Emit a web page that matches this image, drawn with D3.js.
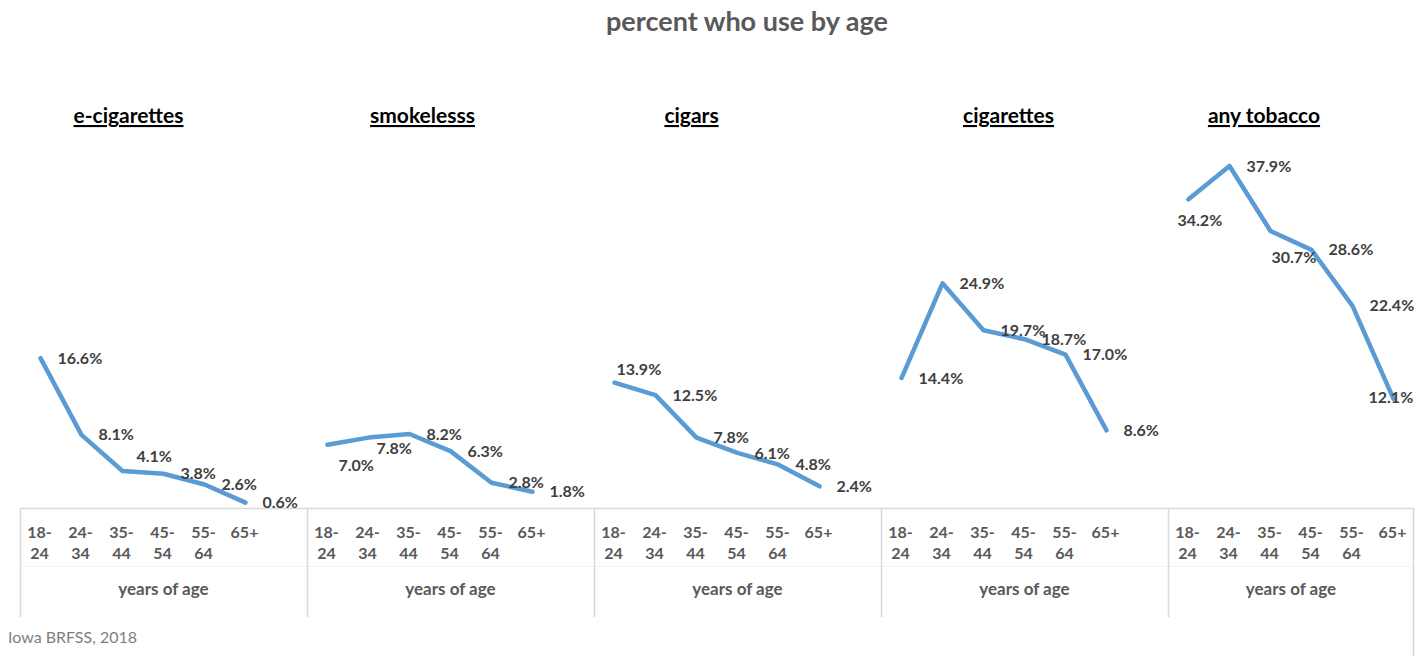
<!DOCTYPE html>
<html>
<head>
<meta charset="utf-8">
<script src="https://cdn.jsdelivr.net/npm/d3@7"></script>
<style>
  body { margin: 0; background: #fff; }
  text { font-family: Lato, "Open Sans", sans-serif; }
</style>
</head>
<body>
<svg id="chart" width="1426" height="656"></svg>
<script>
let ageGroups = ['18-24', '24-34', '35-44', '45-54', '55-64', '65+'];
let products = ['e-cigarettes', 'smokelesss', 'cigars', 'cigarettes', 'any tobacco'];

let eCigarettes = [16.6, 8.1, 4.1, 3.8, 2.6, 0.6];
let smokeless = [7.0, 7.8, 8.2, 6.3, 2.8, 1.8];
let cigars = [13.9, 12.5, 7.8, 6.1, 4.8, 2.4];
let cigarettes = [14.4, 24.9, 19.7, 18.7, 17.0, 8.6];
let anyTobacco = [34.2, 37.9, 30.7, 28.6, 22.4, 12.1];

let series = [eCigarettes, smokeless, cigars, cigarettes, anyTobacco];

// hand-placed label tweaks from the original (dx, dy from default "right" spot)
let labelNudge = {
  '0-2': [-3, -15],
  '1-0': [-6, 21],
  '1-1': [-9, 11],
  '2-0': [-15, -13],
  '4-0': [-28, 21],
  '4-2': [-16, 26],
  '4-5': [-42, -1]
};
let titleShift = [-35, -28, -46, -16, -27];

const lineColor = '#5B9BD5';
const gridColor = '#d9d9d9';

let svg = d3.select('#chart');

// one slot per age group, plus a blank slot after each group except the last
let slots = [];
products.forEach(function (p, i) {
  ageGroups.forEach(function (a) { slots.push(p + '|' + a); });
  if (i < products.length - 1) slots.push(p + '|gap');
});

let x = d3.scaleBand()
  .domain(slots)
  .range([20, 1414])
  .padding(0);

let y = d3.scaleLinear()
  .domain([0, 40])
  .range([508, 147]);

let cx = function (p, a) { return x(p + '|' + a) + x.bandwidth() / 2; };

// title
svg.append('text')
  .attr('x', 747)
  .attr('y', 31)
  .attr('text-anchor', 'middle')
  .attr('font-size', 27)
  .attr('font-weight', 'bold')
  .attr('fill', '#595959')
  .text('percent who use by age');

// frame of the category area
let groupStart = products.map(function (p) { return x(p + '|' + ageGroups[0]); });
let groupEnd = products.map(function (p, i) {
  return i < products.length - 1 ? x(p + '|gap') + x.bandwidth() : x.range()[1];
});

svg.append('line')
  .attr('x1', x.range()[0]).attr('x2', x.range()[1] - 1)
  .attr('y1', 566.5).attr('y2', 566.5)
  .attr('stroke', '#f3f3f3');

svg.selectAll('.sep')
  .data(groupStart)
  .enter()
  .append('line')
  .attr('class', 'sep')
  .attr('x1', d => Math.round(d) + 0.5)
  .attr('x2', d => Math.round(d) + 0.5)
  .attr('y1', y(0))
  .attr('y2', 617)
  .attr('stroke', gridColor)
  .attr('stroke-width', 1.5);

svg.append('line')
  .attr('x1', x.range()[1] - 0.5).attr('x2', x.range()[1] - 0.5)
  .attr('y1', y(0)).attr('y2', 656)
  .attr('stroke', gridColor)
  .attr('stroke-width', 1.5);

// bottom axis with two-line age labels
let ticks = slots.filter(s => s.indexOf('|gap') < 0);
let axis = svg.append('g')
  .attr('transform', 'translate(0,' + y(0) + ')')
  .call(d3.axisBottom(x)
    .tickValues(ticks)
    .tickSize(0)
    .tickSizeOuter(0)
    .tickPadding(0)
    .tickFormat(d => d.split('|')[1]));

axis.select('.domain')
  .attr('stroke', gridColor)
  .attr('stroke-width', 1.5);

axis.selectAll('.tick text').each(function (d) {
  let label = d.split('|')[1];
  let parts = label.indexOf('-') > 0 ? [label.split('-')[0] + '-', label.split('-')[1]] : [label];
  let t = d3.select(this)
    .text(null)
    .attr('y', 0)
    .attr('dy', null)
    .attr('font-family', 'Lato, sans-serif')
    .attr('font-size', 16)
    .attr('font-weight', 'bold')
    .attr('fill', '#595959');
  parts.forEach(function (s, i) {
    t.append('tspan')
      .attr('x', -1)
      .attr('y', 30 + i * 21)
      .text(s);
  });
});

// "years of age" under each group
svg.selectAll('.group-label')
  .data(products)
  .enter()
  .append('text')
  .attr('class', 'group-label')
  .attr('x', (d, i) => (groupStart[i] + groupEnd[i]) / 2)
  .attr('y', 595)
  .attr('text-anchor', 'middle')
  .attr('font-size', 17)
  .attr('font-weight', 'bold')
  .attr('fill', '#595959')
  .text('years of age');

// panel headings
svg.selectAll('.heading')
  .data(products)
  .enter()
  .append('text')
  .attr('class', 'heading')
  .attr('x', (d, i) => (groupStart[i] + groupEnd[i]) / 2 + titleShift[i])
  .attr('y', 123)
  .attr('text-anchor', 'middle')
  .attr('font-size', 21)
  .attr('font-weight', 'bold')
  .attr('fill', '#000')
  .attr('text-decoration', 'underline')
  .text(d => d);

// lines
let line = d3.line()
  .x(d => d.x)
  .y(d => y(d.v));

let points = series.map(function (vals, i) {
  return vals.map(function (v, j) {
    return { x: cx(products[i], ageGroups[j]), v: v, key: i + '-' + j };
  });
});

svg.selectAll('.series')
  .data(points)
  .enter()
  .append('path')
  .attr('class', 'series')
  .attr('d', line)
  .attr('fill', 'none')
  .attr('stroke', lineColor)
  .attr('stroke-width', 4.5)
  .attr('stroke-linejoin', 'round')
  .attr('stroke-linecap', 'round');

// data labels
svg.selectAll('.value')
  .data(points.flat())
  .enter()
  .append('text')
  .attr('class', 'value')
  .attr('x', function (d) {
    let n = labelNudge[d.key] || [0, 0];
    return d.x + 17 + n[0];
  })
  .attr('y', function (d) {
    let n = labelNudge[d.key] || [0, 0];
    return y(d.v) + n[1];
  })
  .attr('dy', '0.35em')
  .attr('font-size', 16)
  .attr('font-weight', 'bold')
  .attr('fill', '#404040')
  .text(d => d.v.toFixed(1) + '%');

// source note
svg.append('text')
  .attr('x', 8)
  .attr('y', 643)
  .attr('font-size', 16)
  .attr('fill', '#7f7f7f')
  .text('Iowa BRFSS, 2018');
</script>
</body>
</html>
